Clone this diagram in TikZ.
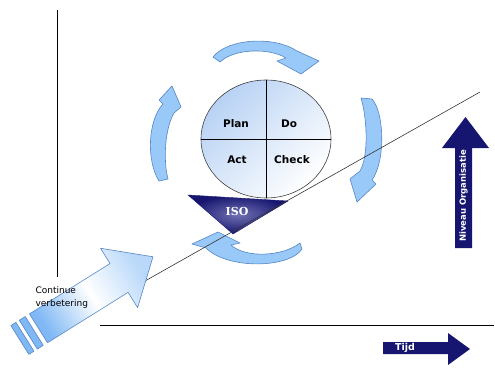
\documentclass[tikz,border=0pt]{standalone}
\usepackage{fontspec}
\setmainfont{DejaVu Sans}
\newfontfamily\isofont{DejaVu Serif}
\usetikzlibrary{positioning,shapes.geometric}
\definecolor{cycfill}{RGB}{153,201,248}
\definecolor{cycline}{RGB}{84,134,196}
\definecolor{navyblue}{RGB}{22,22,112}
\definecolor{isomid}{RGB}{112,112,178}
\definecolor{circblue}{RGB}{184,210,244}
\definecolor{bigblue}{RGB}{128,184,245}

\begin{document}
\begin{tikzpicture}[x=1pt,y=-1pt,
  cycarrow/.style={fill=cycfill,draw=cycline,line width=0.6pt,line join=round},
  bigarrow/.style={draw=cycline,line width=0.6pt,line join=round,left color=bigblue,right color=bigblue!55,middle color=white,shading angle=122},
  quadlabel/.style={font=\bfseries\fontsize{10.5}{12}\selectfont},
  navyarrow/.style={fill=navyblue},
  whitelabel/.style={text=white,font=\bfseries\fontsize{8.5}{10}\selectfont}]
  \useasboundingbox (0,0) rectangle (495,367);
  % axes
  \draw[line width=0.8pt] (57,10) -- (57,277);
  \draw[line width=0.8pt] (100,325) -- (494,325);
  % the cycle of four arrows
  \draw[cycarrow] (220,62) -- (213,57) .. controls (228,38) and (275,36) .. (297,51) -- (319,61) -- (301,74) -- (277,61) -- (286,58) .. controls (270,48) and (235,48) .. (220,62) -- cycle;
  \draw[cycarrow] (361,98) -- (372,99) .. controls (384,112) and (386,160) .. (372,180) -- (376,184) -- (357,202) -- (350,179) -- (360,171) .. controls (369,155) and (367,118) .. (361,98) -- cycle;
  \draw[cycarrow] (300,243) -- (302,249) .. controls (290,268) and (228,270) .. (206,248) -- (192,244) -- (218,232) -- (240,243) -- (231,245) .. controls (245,258) and (282,257) .. (300,243) -- cycle;
  \draw[cycarrow] (168,179) -- (159,181) .. controls (146,160) and (148,120) .. (163,104) -- (159,100) -- (172,86) -- (181,107) -- (174,113) .. controls (165,128) and (163,160) .. (168,179) -- cycle;
  % plan do check act
  \node[ellipse,draw=black!75,line width=0.6pt,minimum width=130pt,minimum height=118pt,top color=circblue,bottom color=white,shading angle=45] (pdca) at (266,139) {};
  \draw[line width=0.6pt] (pdca.north) -- (pdca.south);
  \draw[line width=0.6pt] (pdca.west) -- (pdca.east);
  \node[quadlabel] (plan) at (236,124) {Plan};
  \node[quadlabel] (do) at (289,124) {Do};
  \node[quadlabel] (act) at (237,160) {Act};
  \node[quadlabel] (check) at (292,160) {Check};
  % iso
  \draw[draw=navyblue,inner color=isomid,outer color=navyblue] (188,195) -- (288,201) -- (233,234) -- cycle;
  \node[text=white,font=\isofont\bfseries\fontsize{11}{12}\selectfont] (iso) at (237,211) {ISO};
  % growth line
  \coordinate (linestart) at (90,312);
  \coordinate (lineend) at (480,92);
  \draw[line width=0.6pt,black!80] (linestart) -- (lineend);
  % continue verbetering
  \begin{scope}[shift={(38.5,328.3)},rotate=32]
    \draw[bigarrow] (0,-17) -- (95,-17) -- (95,-35) -- (135,0) -- (95,35) -- (95,17) -- (0,17) -- cycle;
    \draw[cycarrow,fill=bigblue] (-12,-17) -- (-5,-17) -- (-5,17) -- (-12,17) -- cycle;
    \draw[cycarrow,fill=bigblue] (-22,-17) -- (-16,-17) -- (-16,17) -- (-22,17) -- cycle;
  \end{scope}
  \node[align=left,anchor=west,font=\fontsize{9}{13}\selectfont] (cv) at (32,298) {Continue\\verbetering};
  % niveau and tijd
  \fill[navyarrow] (455,248) -- (455,148) -- (442,148) -- (465.5,117) -- (489,148) -- (472,148) -- (472,248) -- cycle;
  \node[whitelabel,rotate=90] (niveau) at (463.5,196) {Niveau Organisatie};
  \fill[navyarrow] (383,342) -- (448,342) -- (448,333) -- (470,349) -- (448,365) -- (448,354) -- (383,354) -- cycle;
  \node[whitelabel,font=\bfseries\fontsize{9.5}{10}\selectfont] (tijd) at (405,348) {Tijd};
\end{tikzpicture}
\end{document}
